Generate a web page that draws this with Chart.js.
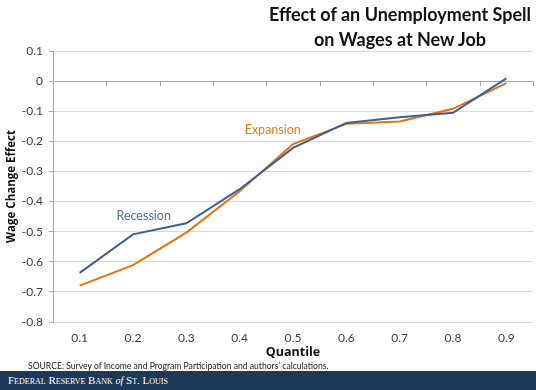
<!DOCTYPE html>
<html>
<head>
<meta charset="utf-8">
<script src="https://cdn.jsdelivr.net/npm/chart.js@4/dist/chart.umd.min.js"></script>
<style>
  html, body { margin: 0; padding: 0; background: #fff; }
  #wrap { position: relative; width: 536px; height: 390px; overflow: hidden; font-family: Lato, "Open Sans", sans-serif; }
  #chart { position: absolute; left: 0; top: 0; }
  #title { position: absolute; left: 250px; width: 300px; top: 2px; text-align: center; font-weight: bold; font-size: 18px; line-height: 25px; color: #111; font-family: Lato, "Open Sans", sans-serif; white-space: nowrap; }
  #source { position: absolute; left: 28px; top: 361px; font-size: 8.6px; color: #222; white-space: nowrap; }
  #footer { position: absolute; left: 0; top: 371px; width: 536px; height: 19px; background: #1c3a57; }
  #footer span.t { position: absolute; left: 8px; top: 3px; color: #fff; font-family: "Liberation Serif", "DejaVu Serif", serif; font-variant: small-caps; font-size: 11px; letter-spacing: 0px; white-space: nowrap; }
  #footer i { font-variant: normal; font-size: 10px; }
</style>
</head>
<body>
<div id="wrap">
  <canvas id="chart" width="536" height="390"></canvas>
  <div id="title">Effect of an Unemployment Spell<br>on Wages at New Job</div>
  <div id="source">SOURCE: Survey of Income and Program Participation and authors’ calculations.</div>
  <div id="footer"><span class="t">Federal Reserve Bank <i>of</i> St. Louis</span></div>
</div>
<script>
const quantiles = ["0.1", "0.2", "0.3", "0.4", "0.5", "0.6", "0.7", "0.8", "0.9"];
const recession = [-0.637, -0.509, -0.472, -0.359, -0.222, -0.139, -0.120, -0.105, 0.009];
const expansion = [-0.679, -0.611, -0.503, -0.366, -0.209, -0.142, -0.134, -0.092, -0.007];
const yTicks = [0.1, 0, -0.1, -0.2, -0.3, -0.4, -0.5, -0.6, -0.7, -0.8];
const seriesLabels = [
  { text: "Recession", index: 1.2, value: -0.448, color: "#4a6aa0" },
  { text: "Expansion", index: 3.62, value: -0.162, color: "#e8771f" }
];

const labelPlugin = {
  id: "seriesLabels",
  afterDatasetsDraw(chart) {
    const ctx = chart.ctx, xs = chart.scales.x, ys = chart.scales.y;
    ctx.save();
    ctx.font = "12.5px Lato, 'Open Sans', sans-serif";
    ctx.textAlign = "center";
    ctx.textBaseline = "middle";
    seriesLabels.forEach(l => {
      ctx.fillStyle = l.color;
      ctx.fillText(l.text, xs.getPixelForValue(l.index), ys.getPixelForValue(l.value));
    });
    ctx.restore();
  }
};

const zeroAxisPlugin = {
  id: "zeroAxis",
  beforeDatasetsDraw(chart) {
    const ctx = chart.ctx, xs = chart.scales.x, ys = chart.scales.y;
    const y0 = ys.getPixelForValue(0);
    ctx.save();
    ctx.strokeStyle = "#a6a6a6";
    ctx.lineWidth = 1;
    ctx.beginPath();
    ctx.moveTo(chart.chartArea.left, y0 + 0.5);
    ctx.lineTo(chart.chartArea.right, y0 + 0.5);
    const step = xs.getPixelForValue(1) - xs.getPixelForValue(0);
    for (let i = 0; i < quantiles.length; i++) {
      const bx = Math.round(xs.getPixelForValue(i) + step / 2) + 0.5;
      ctx.moveTo(bx, y0);
      ctx.lineTo(bx, y0 + 5);
    }
    ctx.stroke();
    ctx.restore();
  }
};

new Chart(document.getElementById("chart"), {
  type: "line",
  data: {
    labels: quantiles,
    datasets: [
      { label: "Recession", data: recession, borderColor: "#3b5f97", borderWidth: 2, pointRadius: 0, tension: 0, fill: false },
      { label: "Expansion", data: expansion, borderColor: "#e8730c", borderWidth: 2, pointRadius: 0, tension: 0, fill: false }
    ]
  },
  options: {
    responsive: false,
    animation: false,
    layout: { padding: { top: 51, right: 3, bottom: 30, left: 0 } },
    plugins: { legend: { display: false }, tooltip: { enabled: false }, title: { display: false } },
    scales: {
      x: {
        offset: true,
        grid: { display: false, drawTicks: false },
        border: { display: false },
        ticks: { color: "#404040", font: { size: 12, family: "Lato, 'Open Sans', sans-serif" }, padding: 9, maxRotation: 0 },
        title: { display: true, text: "Quantile", color: "#111", font: { size: 12.5, weight: "bold", family: "'Open Sans', Lato, sans-serif" }, padding: { top: 0, bottom: 0 } },
        afterFit(s) { s.height = 38; }
      },
      y: {
        min: -0.8, max: 0.1,
        afterBuildTicks(s) { s.ticks = yTicks.map(v => ({ value: v })); },
        grid: { color: "#d9d9d9", tickColor: "#a6a6a6", tickLength: 4, drawTicks: true },
        border: { display: true, color: "#a6a6a6" },
        ticks: { color: "#404040", font: { size: 12, family: "Lato, 'Open Sans', sans-serif" }, padding: 6,
          callback: v => (Math.round(v * 10) / 10).toString() },
        title: { display: true, text: "Wage Change Effect", color: "#111", font: { size: 11.5, weight: "bold", family: "'Open Sans', Lato, sans-serif" }, padding: { top: 5, bottom: 0 } },
        afterFit(s) { s.width = 53; }
      }
    }
  },
  plugins: [zeroAxisPlugin, labelPlugin]
});
</script>
</body>
</html>
